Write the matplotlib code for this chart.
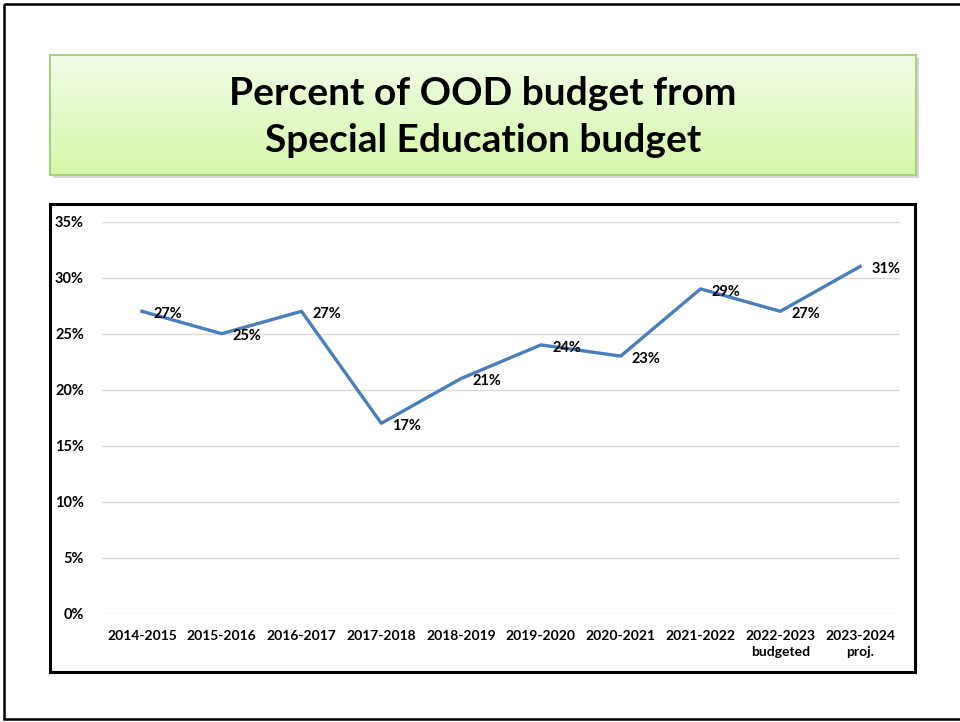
import matplotlib.pyplot as plt
import numpy as np
from matplotlib.patches import Rectangle

plt.rcParams['font.family'] = ['Lato', 'DejaVu Sans']

years = ['2014-2015', '2015-2016', '2016-2017', '2017-2018', '2018-2019',
         '2019-2020', '2020-2021', '2021-2022', '2022-2023\nbudgeted',
         '2023-2024\nproj.']
percent = [27, 25, 27, 17, 21, 24, 23, 29, 27, 31]
y_ticks = [0, 5, 10, 15, 20, 25, 30, 35]

W, H = 960, 722
fig = plt.figure(figsize=(W / 100, H / 100), dpi=100)


def box(x0, y0, x1, y1):
    # pixel box (top-left origin) -> figure fraction rect
    return [x0 / W, 1 - y1 / H, (x1 - x0) / W, (y1 - y0) / H]


# slide frame
frame = fig.add_axes([0, 0, 1, 1])
frame.set_xlim(0, W)
frame.set_ylim(H, 0)
frame.axis('off')
frame.add_patch(Rectangle((4, 4), W + 10, 715, fill=False, ec='black', lw=1.8))

# title shadow + gradient box
frame.add_patch(Rectangle((53, 58), 866, 120, fc='#bdbdbd', ec='none', alpha=0.6))
tax = fig.add_axes(box(50, 55, 916, 175))
grad = np.linspace(0, 1, 256).reshape(-1, 1)
top = np.array([0.95, 0.99, 0.91])
bottom = np.array([0.84, 0.97, 0.66])
img = top + (bottom - top) * grad[:, :, None]
tax.imshow(img, aspect='auto', extent=[0, 1, 0, 1])
tax.set_xticks([])
tax.set_yticks([])
for s in tax.spines.values():
    s.set_color('#a9cf7f')
    s.set_linewidth(1.5)
tax.text(0.5, 0.48, 'Percent of OOD budget from\nSpecial Education budget',
         ha='center', va='center', fontsize=28, fontweight='bold',
         linespacing=1.42, transform=tax.transAxes)

# chart area border
frame.add_patch(Rectangle((50, 204), 865, 468, fill=False, ec='black', lw=2.2))

ax = fig.add_axes(box(102, 221.7, 900, 613.7))
x = np.arange(len(years))
ax.plot(x, percent, color='#4a7ebb', lw=2.4)
for xi, v in zip(x, percent):
    ax.annotate(f'{v}%', (xi, v), xytext=(8, -2), textcoords='offset points',
                ha='left', va='center', fontsize=10.5, fontweight='bold')

ax.set_xlim(-0.5, len(years) - 0.5)
ax.set_ylim(0, 35)
ax.set_yticks(y_ticks)
ax.set_yticklabels([f'{t}%' for t in y_ticks])
ax.set_xticks(x)
ax.set_xticklabels(years, linespacing=1.35)
ax.tick_params(length=0)
ax.tick_params(axis='y', pad=13, labelsize=10.5)
ax.tick_params(axis='x', pad=12, labelsize=10)
for lab in ax.get_xticklabels() + ax.get_yticklabels():
    lab.set_fontweight('bold')
ax.grid(axis='y', color='#d9d9d9', lw=1)
ax.set_axisbelow(True)
for s in ax.spines.values():
    s.set_visible(False)
ax.patch.set_alpha(0)

fig.savefig('out.png', dpi=100)
